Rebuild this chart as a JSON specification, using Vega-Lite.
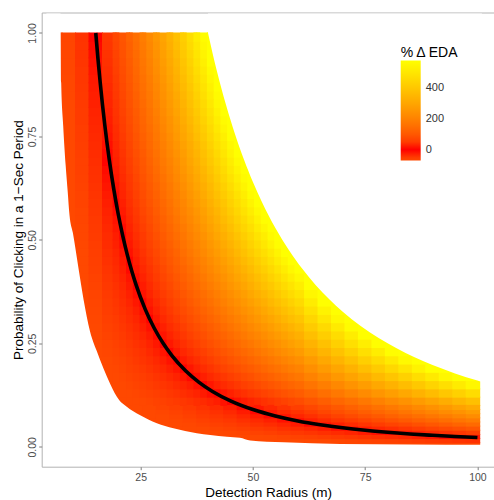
{
"$schema":"https://vega.github.io/schema/vega-lite/v6.json",
"width":452.8,"height":454.2,
"autosize":{"type":"none"},
"padding":{"left":41.7,"top":12.5,"right":0,"bottom":33.3},
"background":"white",
"config":{"font":"Liberation Sans","view":{"stroke":"#b3b3b3","strokeWidth":1}},
"datasets":{
"hi":[
{"r":6,"p":0.77,"v":-88},{"r":6,"p":0.79,"v":-87},{"r":6,"p":0.81,"v":-87},{"r":6,"p":0.83,"v":-87},{"r":6,"p":0.85,"v":-86},{"r":6,"p":0.87,"v":-86},{"r":6,"p":0.89,"v":-86},{"r":6,"p":0.91,"v":-85},{"r":6,"p":0.93,"v":-85},{"r":6,"p":0.95,"v":-85},{"r":6,"p":0.97,"v":-84},{"r":6,"p":0.99,"v":-84},
{"r":9,"p":0.47,"v":-83},{"r":9,"p":0.49,"v":-82},{"r":9,"p":0.51,"v":-82},{"r":9,"p":0.53,"v":-81},{"r":9,"p":0.55,"v":-80},{"r":9,"p":0.57,"v":-79},
{"r":9,"p":0.59,"v":-79},{"r":9,"p":0.61,"v":-78},{"r":9,"p":0.63,"v":-77},{"r":9,"p":0.65,"v":-77},{"r":9,"p":0.67,"v":-76},{"r":9,"p":0.69,"v":-75},{"r":9,"p":0.71,"v":-74},{"r":9,"p":0.73,"v":-74},{"r":9,"p":0.75,"v":-73},{"r":9,"p":0.77,"v":-72},{"r":9,"p":0.79,"v":-72},{"r":9,"p":0.81,"v":-71},{"r":9,"p":0.83,"v":-70},{"r":9,"p":0.85,"v":-69},{"r":9,"p":0.87,"v":-69},{"r":9,"p":0.89,"v":-68},{"r":9,"p":0.91,"v":-67},{"r":9,"p":0.93,"v":-67},{"r":9,"p":0.95,"v":-66},{"r":9,"p":0.97,"v":-65},{"r":9,"p":0.99,"v":-64},
{"r":12,"p":0.29,"v":-81},{"r":12,"p":0.31,"v":-80},{"r":12,"p":0.33,"v":-79},{"r":12,"p":0.35,"v":-78},{"r":12,"p":0.37,"v":-76},
{"r":12,"p":0.39,"v":-75},{"r":12,"p":0.41,"v":-74},{"r":12,"p":0.43,"v":-72},{"r":12,"p":0.45,"v":-71},{"r":12,"p":0.47,"v":-70},{"r":12,"p":0.49,"v":-69},{"r":12,"p":0.51,"v":-67},{"r":12,"p":0.53,"v":-66},{"r":12,"p":0.55,"v":-65},{"r":12,"p":0.57,"v":-64},{"r":12,"p":0.59,"v":-62},{"r":12,"p":0.61,"v":-61},{"r":12,"p":0.63,"v":-60},{"r":12,"p":0.65,"v":-58},{"r":12,"p":0.67,"v":-57},{"r":12,"p":0.69,"v":-56},{"r":12,"p":0.71,"v":-55},{"r":12,"p":0.73,"v":-53},{"r":12,"p":0.75,"v":-52},{"r":12,"p":0.77,"v":-51},{"r":12,"p":0.79,"v":-49},{"r":12,"p":0.81,"v":-48},{"r":12,"p":0.83,"v":-47},{"r":12,"p":0.85,"v":-46},{"r":12,"p":0.87,"v":-44},{"r":12,"p":0.89,"v":-43},{"r":12,"p":0.91,"v":-42},{"r":12,"p":0.93,"v":-40},{"r":12,"p":0.95,"v":-39},{"r":12,"p":0.97,"v":-38},{"r":12,"p":0.99,"v":-37},
{"r":15,"p":0.19,"v":-81},{"r":15,"p":0.21,"v":-79},{"r":15,"p":0.23,"v":-77},
{"r":15,"p":0.25,"v":-75},{"r":15,"p":0.27,"v":-73},{"r":15,"p":0.29,"v":-71},{"r":15,"p":0.31,"v":-69},{"r":15,"p":0.33,"v":-67},{"r":15,"p":0.35,"v":-65},{"r":15,"p":0.37,"v":-63},{"r":15,"p":0.39,"v":-61},{"r":15,"p":0.41,"v":-59},{"r":15,"p":0.43,"v":-57},{"r":15,"p":0.45,"v":-55},{"r":15,"p":0.47,"v":-53},{"r":15,"p":0.49,"v":-51},{"r":15,"p":0.51,"v":-49},{"r":15,"p":0.53,"v":-47},{"r":15,"p":0.55,"v":-45},{"r":15,"p":0.57,"v":-43},{"r":15,"p":0.59,"v":-41},{"r":15,"p":0.61,"v":-39},{"r":15,"p":0.63,"v":-37},{"r":15,"p":0.65,"v":-35},{"r":15,"p":0.67,"v":-33},{"r":15,"p":0.69,"v":-31},{"r":15,"p":0.71,"v":-29},{"r":15,"p":0.73,"v":-27},{"r":15,"p":0.75,"v":-25},{"r":15,"p":0.77,"v":-23},{"r":15,"p":0.79,"v":-21},{"r":15,"p":0.81,"v":-19},{"r":15,"p":0.83,"v":-17},{"r":15,"p":0.85,"v":-15},{"r":15,"p":0.87,"v":-13},{"r":15,"p":0.89,"v":-11},{"r":15,"p":0.91,"v":-9},{"r":15,"p":0.93,"v":-7},{"r":15,"p":0.95,"v":-5},{"r":15,"p":0.97,"v":-3},{"r":15,"p":0.99,"v":-1},
{"r":18,"p":0.13,"v":-81},{"r":18,"p":0.15,"v":-78},
{"r":18,"p":0.17,"v":-76},{"r":18,"p":0.19,"v":-73},{"r":18,"p":0.21,"v":-70},{"r":18,"p":0.23,"v":-67},{"r":18,"p":0.25,"v":-64},{"r":18,"p":0.27,"v":-61},{"r":18,"p":0.29,"v":-58},{"r":18,"p":0.31,"v":-55},{"r":18,"p":0.33,"v":-52},{"r":18,"p":0.35,"v":-50},{"r":18,"p":0.37,"v":-47},{"r":18,"p":0.39,"v":-44},{"r":18,"p":0.41,"v":-41},{"r":18,"p":0.43,"v":-38},{"r":18,"p":0.45,"v":-35},{"r":18,"p":0.47,"v":-32},{"r":18,"p":0.49,"v":-29},{"r":18,"p":0.51,"v":-27},{"r":18,"p":0.53,"v":-24},{"r":18,"p":0.55,"v":-21},{"r":18,"p":0.57,"v":-18},{"r":18,"p":0.59,"v":-15},{"r":18,"p":0.61,"v":-12},{"r":18,"p":0.63,"v":-9},{"r":18,"p":0.65,"v":-6},{"r":18,"p":0.67,"v":-4},{"r":18,"p":0.69,"v":-1},{"r":18,"p":0.71,"v":2},{"r":18,"p":0.73,"v":5},{"r":18,"p":0.75,"v":8},{"r":18,"p":0.77,"v":11},{"r":18,"p":0.79,"v":14},{"r":18,"p":0.81,"v":17},{"r":18,"p":0.83,"v":20},{"r":18,"p":0.85,"v":22},{"r":18,"p":0.87,"v":25},{"r":18,"p":0.89,"v":28},{"r":18,"p":0.91,"v":31},{"r":18,"p":0.93,"v":34},{"r":18,"p":0.95,"v":37},{"r":18,"p":0.97,"v":40},{"r":18,"p":0.99,"v":43},
{"r":21,"p":0.11,"v":-78},{"r":21,"p":0.13,"v":-75},{"r":21,"p":0.15,"v":-71},{"r":21,"p":0.17,"v":-67},{"r":21,"p":0.19,"v":-63},{"r":21,"p":0.21,"v":-59},{"r":21,"p":0.23,"v":-55},{"r":21,"p":0.25,"v":-51},{"r":21,"p":0.27,"v":-47},{"r":21,"p":0.29,"v":-43},{"r":21,"p":0.31,"v":-39},{"r":21,"p":0.33,"v":-35},{"r":21,"p":0.35,"v":-31},{"r":21,"p":0.37,"v":-27},{"r":21,"p":0.39,"v":-24},{"r":21,"p":0.41,"v":-20},{"r":21,"p":0.43,"v":-16},{"r":21,"p":0.45,"v":-12},{"r":21,"p":0.47,"v":-8},{"r":21,"p":0.49,"v":-4},{"r":21,"p":0.51,"v":0},{"r":21,"p":0.53,"v":4},{"r":21,"p":0.55,"v":8},{"r":21,"p":0.57,"v":12},{"r":21,"p":0.59,"v":16},{"r":21,"p":0.61,"v":20},{"r":21,"p":0.63,"v":23},{"r":21,"p":0.65,"v":27},{"r":21,"p":0.67,"v":31},{"r":21,"p":0.69,"v":35},{"r":21,"p":0.71,"v":39},{"r":21,"p":0.73,"v":43},{"r":21,"p":0.75,"v":47},{"r":21,"p":0.77,"v":51},{"r":21,"p":0.79,"v":55},{"r":21,"p":0.81,"v":59},{"r":21,"p":0.83,"v":63},{"r":21,"p":0.85,"v":67},{"r":21,"p":0.87,"v":71},{"r":21,"p":0.89,"v":74},{"r":21,"p":0.91,"v":78},{"r":21,"p":0.93,"v":82},{"r":21,"p":0.95,"v":86},{"r":21,"p":0.97,"v":90},{"r":21,"p":0.99,"v":94},
{"r":24,"p":0.11,"v":-72},{"r":24,"p":0.13,"v":-67},{"r":24,"p":0.15,"v":-62},{"r":24,"p":0.17,"v":-56},{"r":24,"p":0.19,"v":-51},{"r":24,"p":0.21,"v":-46},{"r":24,"p":0.23,"v":-41},{"r":24,"p":0.25,"v":-36},{"r":24,"p":0.27,"v":-31},{"r":24,"p":0.29,"v":-26},{"r":24,"p":0.31,"v":-21},{"r":24,"p":0.33,"v":-16},{"r":24,"p":0.35,"v":-10},{"r":24,"p":0.37,"v":-5},{"r":24,"p":0.39,"v":0},{"r":24,"p":0.41,"v":5},{"r":24,"p":0.43,"v":10},{"r":24,"p":0.45,"v":15},{"r":24,"p":0.47,"v":20},{"r":24,"p":0.49,"v":25},{"r":24,"p":0.51,"v":31},{"r":24,"p":0.53,"v":36},{"r":24,"p":0.55,"v":41},{"r":24,"p":0.57,"v":46},{"r":24,"p":0.59,"v":51},{"r":24,"p":0.61,"v":56},{"r":24,"p":0.63,"v":61},{"r":24,"p":0.65,"v":66},{"r":24,"p":0.67,"v":72},{"r":24,"p":0.69,"v":77},{"r":24,"p":0.71,"v":82},{"r":24,"p":0.73,"v":87},{"r":24,"p":0.75,"v":92},{"r":24,"p":0.77,"v":97},{"r":24,"p":0.79,"v":102},{"r":24,"p":0.81,"v":107},{"r":24,"p":0.83,"v":112},{"r":24,"p":0.85,"v":118},{"r":24,"p":0.87,"v":123},{"r":24,"p":0.89,"v":128},{"r":24,"p":0.91,"v":133},{"r":24,"p":0.93,"v":138},{"r":24,"p":0.95,"v":143},{"r":24,"p":0.97,"v":148},{"r":24,"p":0.99,"v":153},
{"r":27,"p":0.11,"v":-64},{"r":27,"p":0.13,"v":-58},{"r":27,"p":0.15,"v":-51},{"r":27,"p":0.17,"v":-45},{"r":27,"p":0.19,"v":-38},{"r":27,"p":0.21,"v":-32},{"r":27,"p":0.23,"v":-25},{"r":27,"p":0.25,"v":-19},{"r":27,"p":0.27,"v":-13},{"r":27,"p":0.29,"v":-6},{"r":27,"p":0.31,"v":0},{"r":27,"p":0.33,"v":7},{"r":27,"p":0.35,"v":13},{"r":27,"p":0.37,"v":20},{"r":27,"p":0.39,"v":26},{"r":27,"p":0.41,"v":33},{"r":27,"p":0.43,"v":39},{"r":27,"p":0.45,"v":46},{"r":27,"p":0.47,"v":52},{"r":27,"p":0.49,"v":59},{"r":27,"p":0.51,"v":65},{"r":27,"p":0.53,"v":72},{"r":27,"p":0.55,"v":78},{"r":27,"p":0.57,"v":85},{"r":27,"p":0.59,"v":91},{"r":27,"p":0.61,"v":98},{"r":27,"p":0.63,"v":104},{"r":27,"p":0.65,"v":111},{"r":27,"p":0.67,"v":117},{"r":27,"p":0.69,"v":124},{"r":27,"p":0.71,"v":130},{"r":27,"p":0.73,"v":137},{"r":27,"p":0.75,"v":143},{"r":27,"p":0.77,"v":149},{"r":27,"p":0.79,"v":156},{"r":27,"p":0.81,"v":162},{"r":27,"p":0.83,"v":169},{"r":27,"p":0.85,"v":175},{"r":27,"p":0.87,"v":182},{"r":27,"p":0.89,"v":188},{"r":27,"p":0.91,"v":195},{"r":27,"p":0.93,"v":201},{"r":27,"p":0.95,"v":208},{"r":27,"p":0.97,"v":214},{"r":27,"p":0.99,"v":221},
{"r":30,"p":0.11,"v":-56},{"r":30,"p":0.13,"v":-48},{"r":30,"p":0.15,"v":-40},{"r":30,"p":0.17,"v":-32},{"r":30,"p":0.19,"v":-24},{"r":30,"p":0.21,"v":-16},{"r":30,"p":0.23,"v":-8},{"r":30,"p":0.25,"v":0},{"r":30,"p":0.27,"v":8},{"r":30,"p":0.29,"v":16},{"r":30,"p":0.31,"v":24},{"r":30,"p":0.33,"v":32},{"r":30,"p":0.35,"v":40},{"r":30,"p":0.37,"v":48},{"r":30,"p":0.39,"v":56},{"r":30,"p":0.41,"v":64},{"r":30,"p":0.43,"v":72},{"r":30,"p":0.45,"v":80},{"r":30,"p":0.47,"v":88},{"r":30,"p":0.49,"v":96},{"r":30,"p":0.51,"v":104},{"r":30,"p":0.53,"v":112},{"r":30,"p":0.55,"v":120},{"r":30,"p":0.57,"v":128},{"r":30,"p":0.59,"v":136},{"r":30,"p":0.61,"v":144},{"r":30,"p":0.63,"v":152},{"r":30,"p":0.65,"v":160},{"r":30,"p":0.67,"v":168},{"r":30,"p":0.69,"v":176},{"r":30,"p":0.71,"v":184},{"r":30,"p":0.73,"v":192},{"r":30,"p":0.75,"v":200},{"r":30,"p":0.77,"v":208},{"r":30,"p":0.79,"v":216},{"r":30,"p":0.81,"v":224},{"r":30,"p":0.83,"v":232},{"r":30,"p":0.85,"v":240},{"r":30,"p":0.87,"v":248},{"r":30,"p":0.89,"v":256},{"r":30,"p":0.91,"v":264},{"r":30,"p":0.93,"v":272},{"r":30,"p":0.95,"v":280},{"r":30,"p":0.97,"v":288},{"r":30,"p":0.99,"v":296},
{"r":33,"p":0.11,"v":-47},{"r":33,"p":0.13,"v":-37},{"r":33,"p":0.15,"v":-27},{"r":33,"p":0.17,"v":-18},{"r":33,"p":0.19,"v":-8},{"r":33,"p":0.21,"v":2},{"r":33,"p":0.23,"v":11},{"r":33,"p":0.25,"v":21},{"r":33,"p":0.27,"v":31},{"r":33,"p":0.29,"v":40},{"r":33,"p":0.31,"v":50},{"r":33,"p":0.33,"v":60},{"r":33,"p":0.35,"v":69},{"r":33,"p":0.37,"v":79},{"r":33,"p":0.39,"v":89},{"r":33,"p":0.41,"v":98},{"r":33,"p":0.43,"v":108},{"r":33,"p":0.45,"v":118},{"r":33,"p":0.47,"v":127},{"r":33,"p":0.49,"v":137},{"r":33,"p":0.51,"v":147},{"r":33,"p":0.53,"v":157},{"r":33,"p":0.55,"v":166},{"r":33,"p":0.57,"v":176},{"r":33,"p":0.59,"v":186},{"r":33,"p":0.61,"v":195},{"r":33,"p":0.63,"v":205},{"r":33,"p":0.65,"v":215},{"r":33,"p":0.67,"v":224},{"r":33,"p":0.69,"v":234},{"r":33,"p":0.71,"v":244},{"r":33,"p":0.73,"v":253},{"r":33,"p":0.75,"v":263},{"r":33,"p":0.77,"v":273},{"r":33,"p":0.79,"v":282},{"r":33,"p":0.81,"v":292},{"r":33,"p":0.83,"v":302},{"r":33,"p":0.85,"v":311},{"r":33,"p":0.87,"v":321},{"r":33,"p":0.89,"v":331},{"r":33,"p":0.91,"v":340},{"r":33,"p":0.93,"v":350},{"r":33,"p":0.95,"v":360},{"r":33,"p":0.97,"v":369},{"r":33,"p":0.99,"v":379},
{"r":36,"p":0.11,"v":-37},{"r":36,"p":0.13,"v":-25},{"r":36,"p":0.15,"v":-14},{"r":36,"p":0.17,"v":-2},{"r":36,"p":0.19,"v":9},{"r":36,"p":0.21,"v":21},{"r":36,"p":0.23,"v":32},{"r":36,"p":0.25,"v":44},{"r":36,"p":0.27,"v":56},{"r":36,"p":0.29,"v":67},{"r":36,"p":0.31,"v":79},{"r":36,"p":0.33,"v":90},{"r":36,"p":0.35,"v":102},{"r":36,"p":0.37,"v":113},{"r":36,"p":0.39,"v":125},{"r":36,"p":0.41,"v":136},{"r":36,"p":0.43,"v":148},{"r":36,"p":0.45,"v":159},{"r":36,"p":0.47,"v":171},{"r":36,"p":0.49,"v":182},{"r":36,"p":0.51,"v":194},{"r":36,"p":0.53,"v":205},{"r":36,"p":0.55,"v":217},{"r":36,"p":0.57,"v":228},{"r":36,"p":0.59,"v":240},{"r":36,"p":0.61,"v":251},{"r":36,"p":0.63,"v":263},{"r":36,"p":0.65,"v":274},{"r":36,"p":0.67,"v":286},{"r":36,"p":0.69,"v":297},{"r":36,"p":0.71,"v":309},{"r":36,"p":0.73,"v":320},{"r":36,"p":0.75,"v":332},{"r":36,"p":0.77,"v":344},{"r":36,"p":0.79,"v":355},{"r":36,"p":0.81,"v":367},{"r":36,"p":0.83,"v":378},{"r":36,"p":0.85,"v":390},{"r":36,"p":0.87,"v":401},{"r":36,"p":0.89,"v":413},{"r":36,"p":0.91,"v":424},{"r":36,"p":0.93,"v":436},{"r":36,"p":0.95,"v":447},{"r":36,"p":0.97,"v":459},{"r":36,"p":0.99,"v":470},
{"r":39,"p":0.11,"v":-26},{"r":39,"p":0.13,"v":-12},{"r":39,"p":0.15,"v":1},{"r":39,"p":0.17,"v":15},{"r":39,"p":0.19,"v":28},{"r":39,"p":0.21,"v":42},{"r":39,"p":0.23,"v":55},{"r":39,"p":0.25,"v":69},{"r":39,"p":0.27,"v":83},{"r":39,"p":0.29,"v":96},{"r":39,"p":0.31,"v":110},{"r":39,"p":0.33,"v":123},{"r":39,"p":0.35,"v":137},{"r":39,"p":0.37,"v":150},{"r":39,"p":0.39,"v":164},{"r":39,"p":0.41,"v":177},{"r":39,"p":0.43,"v":191},{"r":39,"p":0.45,"v":204},{"r":39,"p":0.47,"v":218},{"r":39,"p":0.49,"v":231},{"r":39,"p":0.51,"v":245},{"r":39,"p":0.53,"v":258},{"r":39,"p":0.55,"v":272},{"r":39,"p":0.57,"v":285},{"r":39,"p":0.59,"v":299},{"r":39,"p":0.61,"v":312},{"r":39,"p":0.63,"v":326},{"r":39,"p":0.65,"v":339},{"r":39,"p":0.67,"v":353},{"r":39,"p":0.69,"v":366},{"r":39,"p":0.71,"v":380},{"r":39,"p":0.73,"v":393},{"r":39,"p":0.75,"v":407},{"r":39,"p":0.77,"v":421},{"r":39,"p":0.79,"v":434},{"r":39,"p":0.81,"v":448},{"r":39,"p":0.83,"v":461},{"r":39,"p":0.85,"v":475},{"r":39,"p":0.87,"v":488},{"r":39,"p":0.89,"v":502},{"r":39,"p":0.91,"v":515},{"r":39,"p":0.93,"v":529},{"r":39,"p":0.95,"v":542},{"r":39,"p":0.97,"v":556},{"r":39,"p":0.99,"v":569},
{"r":42,"p":0.11,"v":-14},{"r":42,"p":0.13,"v":2},{"r":42,"p":0.15,"v":18},{"r":42,"p":0.17,"v":33},{"r":42,"p":0.19,"v":49},{"r":42,"p":0.21,"v":65},{"r":42,"p":0.23,"v":80},{"r":42,"p":0.25,"v":96},{"r":42,"p":0.27,"v":112},{"r":42,"p":0.29,"v":127},{"r":42,"p":0.31,"v":143},{"r":42,"p":0.33,"v":159},{"r":42,"p":0.35,"v":174},{"r":42,"p":0.37,"v":190},{"r":42,"p":0.39,"v":206},{"r":42,"p":0.41,"v":221},{"r":42,"p":0.43,"v":237},{"r":42,"p":0.45,"v":253},{"r":42,"p":0.47,"v":268},{"r":42,"p":0.49,"v":284},{"r":42,"p":0.51,"v":300},{"r":42,"p":0.53,"v":316},{"r":42,"p":0.55,"v":331},{"r":42,"p":0.57,"v":347},{"r":42,"p":0.59,"v":363},{"r":42,"p":0.61,"v":378},{"r":42,"p":0.63,"v":394},{"r":42,"p":0.65,"v":410},{"r":42,"p":0.67,"v":425},{"r":42,"p":0.69,"v":441},{"r":42,"p":0.71,"v":457},{"r":42,"p":0.73,"v":472},{"r":42,"p":0.75,"v":488},{"r":42,"p":0.77,"v":504},{"r":42,"p":0.79,"v":519},{"r":42,"p":0.81,"v":535},{"r":42,"p":0.83,"v":551},{"r":42,"p":0.85,"v":566},{"r":42,"p":0.87,"v":582},{"r":42,"p":0.89,"v":598},{"r":42,"p":0.91,"v":613},{"r":42,"p":0.93,"v":629},{"r":42,"p":0.95,"v":645},{"r":42,"p":0.97,"v":660},
{"r":45,"p":0.11,"v":-1},{"r":45,"p":0.13,"v":17},{"r":45,"p":0.15,"v":35},{"r":45,"p":0.17,"v":53},{"r":45,"p":0.19,"v":71},{"r":45,"p":0.21,"v":89},{"r":45,"p":0.23,"v":107},{"r":45,"p":0.25,"v":125},{"r":45,"p":0.27,"v":143},{"r":45,"p":0.29,"v":161},{"r":45,"p":0.31,"v":179},{"r":45,"p":0.33,"v":197},{"r":45,"p":0.35,"v":215},{"r":45,"p":0.37,"v":233},{"r":45,"p":0.39,"v":251},{"r":45,"p":0.41,"v":269},{"r":45,"p":0.43,"v":287},{"r":45,"p":0.45,"v":305},{"r":45,"p":0.47,"v":323},{"r":45,"p":0.49,"v":341},{"r":45,"p":0.51,"v":359},{"r":45,"p":0.53,"v":377},{"r":45,"p":0.55,"v":395},{"r":45,"p":0.57,"v":413},{"r":45,"p":0.59,"v":431},{"r":45,"p":0.61,"v":449},{"r":45,"p":0.63,"v":467},{"r":45,"p":0.65,"v":485},{"r":45,"p":0.67,"v":503},{"r":45,"p":0.69,"v":521},{"r":45,"p":0.71,"v":539},{"r":45,"p":0.73,"v":557},{"r":45,"p":0.75,"v":575},{"r":45,"p":0.77,"v":593},{"r":45,"p":0.79,"v":611},{"r":45,"p":0.81,"v":629},{"r":45,"p":0.83,"v":647},{"r":45,"p":0.85,"v":665},
{"r":48,"p":0.11,"v":13},{"r":48,"p":0.13,"v":33},{"r":48,"p":0.15,"v":54},{"r":48,"p":0.17,"v":74},{"r":48,"p":0.19,"v":95},{"r":48,"p":0.21,"v":115},{"r":48,"p":0.23,"v":136},{"r":48,"p":0.25,"v":156},{"r":48,"p":0.27,"v":176},{"r":48,"p":0.29,"v":197},{"r":48,"p":0.31,"v":217},{"r":48,"p":0.33,"v":238},{"r":48,"p":0.35,"v":258},{"r":48,"p":0.37,"v":279},{"r":48,"p":0.39,"v":299},{"r":48,"p":0.41,"v":320},{"r":48,"p":0.43,"v":340},{"r":48,"p":0.45,"v":361},{"r":48,"p":0.47,"v":381},{"r":48,"p":0.49,"v":402},{"r":48,"p":0.51,"v":422},{"r":48,"p":0.53,"v":443},{"r":48,"p":0.55,"v":463},{"r":48,"p":0.57,"v":484},{"r":48,"p":0.59,"v":504},{"r":48,"p":0.61,"v":525},{"r":48,"p":0.63,"v":545},{"r":48,"p":0.65,"v":566},{"r":48,"p":0.67,"v":586},{"r":48,"p":0.69,"v":607},{"r":48,"p":0.71,"v":627},{"r":48,"p":0.73,"v":648},{"r":48,"p":0.75,"v":668},
{"r":51,"p":0.11,"v":27},{"r":51,"p":0.13,"v":50},{"r":51,"p":0.15,"v":73},{"r":51,"p":0.17,"v":97},{"r":51,"p":0.19,"v":120},{"r":51,"p":0.21,"v":143},{"r":51,"p":0.23,"v":166},{"r":51,"p":0.25,"v":189},{"r":51,"p":0.27,"v":212},{"r":51,"p":0.29,"v":235},{"r":51,"p":0.31,"v":258},{"r":51,"p":0.33,"v":281},{"r":51,"p":0.35,"v":305},{"r":51,"p":0.37,"v":328},{"r":51,"p":0.39,"v":351},{"r":51,"p":0.41,"v":374},{"r":51,"p":0.43,"v":397},{"r":51,"p":0.45,"v":420},{"r":51,"p":0.47,"v":443},{"r":51,"p":0.49,"v":466},{"r":51,"p":0.51,"v":490},{"r":51,"p":0.53,"v":513},{"r":51,"p":0.55,"v":536},{"r":51,"p":0.57,"v":559},{"r":51,"p":0.59,"v":582},{"r":51,"p":0.61,"v":605},{"r":51,"p":0.63,"v":628},{"r":51,"p":0.65,"v":651},
{"r":54,"p":0.11,"v":43},{"r":54,"p":0.13,"v":68},{"r":54,"p":0.15,"v":94},{"r":54,"p":0.17,"v":120},{"r":54,"p":0.19,"v":146},{"r":54,"p":0.21,"v":172},{"r":54,"p":0.23,"v":198},{"r":54,"p":0.25,"v":224},{"r":54,"p":0.27,"v":250},{"r":54,"p":0.29,"v":276},{"r":54,"p":0.31,"v":302},{"r":54,"p":0.33,"v":328},{"r":54,"p":0.35,"v":354},{"r":54,"p":0.37,"v":380},{"r":54,"p":0.39,"v":405},{"r":54,"p":0.41,"v":431},{"r":54,"p":0.43,"v":457},{"r":54,"p":0.45,"v":483},{"r":54,"p":0.47,"v":509},{"r":54,"p":0.49,"v":535},{"r":54,"p":0.51,"v":561},{"r":54,"p":0.53,"v":587},{"r":54,"p":0.55,"v":613},{"r":54,"p":0.57,"v":639},{"r":54,"p":0.59,"v":665},
{"r":57,"p":0.11,"v":59},{"r":57,"p":0.13,"v":88},{"r":57,"p":0.15,"v":117},{"r":57,"p":0.17,"v":145},{"r":57,"p":0.19,"v":174},{"r":57,"p":0.21,"v":203},{"r":57,"p":0.23,"v":232},{"r":57,"p":0.25,"v":261},{"r":57,"p":0.27,"v":290},{"r":57,"p":0.29,"v":319},{"r":57,"p":0.31,"v":348},{"r":57,"p":0.33,"v":377},{"r":57,"p":0.35,"v":405},{"r":57,"p":0.37,"v":434},{"r":57,"p":0.39,"v":463},{"r":57,"p":0.41,"v":492},{"r":57,"p":0.43,"v":521},{"r":57,"p":0.45,"v":550},{"r":57,"p":0.47,"v":579},{"r":57,"p":0.49,"v":608},{"r":57,"p":0.51,"v":636},
{"r":60,"p":0.11,"v":76},{"r":60,"p":0.13,"v":108},{"r":60,"p":0.15,"v":140},{"r":60,"p":0.17,"v":172},{"r":60,"p":0.19,"v":204},{"r":60,"p":0.21,"v":236},{"r":60,"p":0.23,"v":268},{"r":60,"p":0.25,"v":300},{"r":60,"p":0.27,"v":332},{"r":60,"p":0.29,"v":364},{"r":60,"p":0.31,"v":396},{"r":60,"p":0.33,"v":428},{"r":60,"p":0.35,"v":460},{"r":60,"p":0.37,"v":492},{"r":60,"p":0.39,"v":524},{"r":60,"p":0.41,"v":556},{"r":60,"p":0.43,"v":588},{"r":60,"p":0.45,"v":620},{"r":60,"p":0.47,"v":652},
{"r":63,"p":0.11,"v":94},{"r":63,"p":0.13,"v":129},{"r":63,"p":0.15,"v":165},{"r":63,"p":0.17,"v":200},{"r":63,"p":0.19,"v":235},{"r":63,"p":0.21,"v":270},{"r":63,"p":0.23,"v":306},{"r":63,"p":0.25,"v":341},{"r":63,"p":0.27,"v":376},{"r":63,"p":0.29,"v":412},{"r":63,"p":0.31,"v":447},{"r":63,"p":0.33,"v":482},{"r":63,"p":0.35,"v":517},{"r":63,"p":0.37,"v":553},{"r":63,"p":0.39,"v":588},{"r":63,"p":0.41,"v":623},{"r":63,"p":0.43,"v":659},
{"r":66,"p":0.11,"v":113},{"r":66,"p":0.13,"v":152},{"r":66,"p":0.15,"v":190},{"r":66,"p":0.17,"v":229},{"r":66,"p":0.19,"v":268},{"r":66,"p":0.21,"v":307},{"r":66,"p":0.23,"v":345},{"r":66,"p":0.25,"v":384},{"r":66,"p":0.27,"v":423},{"r":66,"p":0.29,"v":461},{"r":66,"p":0.31,"v":500},{"r":66,"p":0.33,"v":539},{"r":66,"p":0.35,"v":578},{"r":66,"p":0.37,"v":616},{"r":66,"p":0.39,"v":655},
{"r":69,"p":0.11,"v":133},{"r":69,"p":0.13,"v":175},{"r":69,"p":0.15,"v":217},{"r":69,"p":0.17,"v":260},{"r":69,"p":0.19,"v":302},{"r":69,"p":0.21,"v":344},{"r":69,"p":0.23,"v":387},{"r":69,"p":0.25,"v":429},{"r":69,"p":0.27,"v":471},{"r":69,"p":0.29,"v":514},{"r":69,"p":0.31,"v":556},{"r":69,"p":0.33,"v":598},{"r":69,"p":0.35,"v":641},
{"r":72,"p":0.11,"v":153},{"r":72,"p":0.13,"v":200},{"r":72,"p":0.15,"v":246},{"r":72,"p":0.17,"v":292},{"r":72,"p":0.19,"v":338},{"r":72,"p":0.21,"v":384},{"r":72,"p":0.23,"v":430},{"r":72,"p":0.25,"v":476},{"r":72,"p":0.27,"v":522},{"r":72,"p":0.29,"v":568},{"r":72,"p":0.31,"v":614},{"r":72,"p":0.33,"v":660},
{"r":75,"p":0.11,"v":175},{"r":75,"p":0.13,"v":225},{"r":75,"p":0.15,"v":275},{"r":75,"p":0.17,"v":325},{"r":75,"p":0.19,"v":375},{"r":75,"p":0.21,"v":425},{"r":75,"p":0.23,"v":475},{"r":75,"p":0.25,"v":525},{"r":75,"p":0.27,"v":575},{"r":75,"p":0.29,"v":625},
{"r":78,"p":0.11,"v":197},{"r":78,"p":0.13,"v":252},{"r":78,"p":0.15,"v":306},{"r":78,"p":0.17,"v":360},{"r":78,"p":0.19,"v":414},{"r":78,"p":0.21,"v":468},{"r":78,"p":0.23,"v":522},{"r":78,"p":0.25,"v":576},{"r":78,"p":0.27,"v":630},
{"r":81,"p":0.11,"v":221},{"r":81,"p":0.13,"v":279},{"r":81,"p":0.15,"v":337},{"r":81,"p":0.17,"v":396},{"r":81,"p":0.19,"v":454},{"r":81,"p":0.21,"v":512},{"r":81,"p":0.23,"v":571},{"r":81,"p":0.25,"v":629},
{"r":84,"p":0.11,"v":245},{"r":84,"p":0.13,"v":308},{"r":84,"p":0.15,"v":370},{"r":84,"p":0.17,"v":433},{"r":84,"p":0.19,"v":496},{"r":84,"p":0.21,"v":559},{"r":84,"p":0.23,"v":621},
{"r":87,"p":0.11,"v":270},{"r":87,"p":0.13,"v":337},{"r":87,"p":0.15,"v":405},{"r":87,"p":0.17,"v":472},{"r":87,"p":0.19,"v":539},{"r":87,"p":0.21,"v":606},
{"r":90,"p":0.11,"v":296},{"r":90,"p":0.13,"v":368},{"r":90,"p":0.15,"v":440},{"r":90,"p":0.17,"v":512},{"r":90,"p":0.19,"v":584},{"r":90,"p":0.21,"v":656},
{"r":93,"p":0.11,"v":323},{"r":93,"p":0.13,"v":400},{"r":93,"p":0.15,"v":477},{"r":93,"p":0.17,"v":553},{"r":93,"p":0.19,"v":630},
{"r":96,"p":0.11,"v":351},{"r":96,"p":0.13,"v":432},{"r":96,"p":0.15,"v":514},{"r":96,"p":0.17,"v":596},
{"r":99,"p":0.11,"v":379},{"r":99,"p":0.13,"v":466},{"r":99,"p":0.15,"v":553},{"r":99,"p":0.17,"v":641}
],
"mid":[
{"r":19.5,"p":0.11,"v":-81},{"r":19.5,"p":0.13,"v":-78},{"r":19.5,"p":0.15,"v":-75},{"r":19.5,"p":0.17,"v":-71},{"r":19.5,"p":0.19,"v":-68},{"r":19.5,"p":0.21,"v":-65},{"r":19.5,"p":0.23,"v":-61},{"r":19.5,"p":0.25,"v":-58},{"r":19.5,"p":0.27,"v":-54},{"r":19.5,"p":0.29,"v":-51},{"r":19.5,"p":0.31,"v":-48},{"r":19.5,"p":0.33,"v":-44},{"r":19.5,"p":0.35,"v":-41},{"r":19.5,"p":0.37,"v":-37},{"r":19.5,"p":0.39,"v":-34},{"r":19.5,"p":0.41,"v":-31},{"r":19.5,"p":0.43,"v":-27},{"r":19.5,"p":0.45,"v":-24},{"r":19.5,"p":0.47,"v":-21},{"r":19.5,"p":0.49,"v":-17},{"r":19.5,"p":0.51,"v":-14},{"r":19.5,"p":0.53,"v":-10},{"r":19.5,"p":0.55,"v":-7},{"r":19.5,"p":0.57,"v":-4},{"r":19.5,"p":0.59,"v":0},{"r":19.5,"p":0.61,"v":3},{"r":19.5,"p":0.63,"v":6},{"r":19.5,"p":0.65,"v":10},{"r":19.5,"p":0.67,"v":13},{"r":19.5,"p":0.69,"v":17},{"r":19.5,"p":0.71,"v":20},{"r":19.5,"p":0.73,"v":23},{"r":19.5,"p":0.75,"v":27},{"r":19.5,"p":0.77,"v":30},{"r":19.5,"p":0.79,"v":34},{"r":19.5,"p":0.81,"v":37},{"r":19.5,"p":0.83,"v":40},{"r":19.5,"p":0.85,"v":44},{"r":19.5,"p":0.87,"v":47},{"r":19.5,"p":0.89,"v":50},{"r":19.5,"p":0.91,"v":54},{"r":19.5,"p":0.93,"v":57},{"r":19.5,"p":0.95,"v":61},{"r":19.5,"p":0.97,"v":64},{"r":19.5,"p":0.99,"v":67},
{"r":22.5,"p":0.11,"v":-75},{"r":22.5,"p":0.13,"v":-71},{"r":22.5,"p":0.15,"v":-66},{"r":22.5,"p":0.17,"v":-62},{"r":22.5,"p":0.19,"v":-57},{"r":22.5,"p":0.21,"v":-53},{"r":22.5,"p":0.23,"v":-48},{"r":22.5,"p":0.25,"v":-44},{"r":22.5,"p":0.27,"v":-39},{"r":22.5,"p":0.29,"v":-35},{"r":22.5,"p":0.31,"v":-30},{"r":22.5,"p":0.33,"v":-26},{"r":22.5,"p":0.35,"v":-21},{"r":22.5,"p":0.37,"v":-17},{"r":22.5,"p":0.39,"v":-12},{"r":22.5,"p":0.41,"v":-8},{"r":22.5,"p":0.43,"v":-3},{"r":22.5,"p":0.45,"v":1},{"r":22.5,"p":0.47,"v":6},{"r":22.5,"p":0.49,"v":10},{"r":22.5,"p":0.51,"v":15},{"r":22.5,"p":0.53,"v":19},{"r":22.5,"p":0.55,"v":24},{"r":22.5,"p":0.57,"v":28},{"r":22.5,"p":0.59,"v":33},{"r":22.5,"p":0.61,"v":37},{"r":22.5,"p":0.63,"v":42},{"r":22.5,"p":0.65,"v":46},{"r":22.5,"p":0.67,"v":51},{"r":22.5,"p":0.69,"v":55},{"r":22.5,"p":0.71,"v":60},{"r":22.5,"p":0.73,"v":64},{"r":22.5,"p":0.75,"v":69},{"r":22.5,"p":0.77,"v":73},{"r":22.5,"p":0.79,"v":78},{"r":22.5,"p":0.81,"v":82},{"r":22.5,"p":0.83,"v":87},{"r":22.5,"p":0.85,"v":91},{"r":22.5,"p":0.87,"v":96},{"r":22.5,"p":0.89,"v":100},{"r":22.5,"p":0.91,"v":105},{"r":22.5,"p":0.93,"v":109},{"r":22.5,"p":0.95,"v":114},{"r":22.5,"p":0.97,"v":118},{"r":22.5,"p":0.99,"v":123},
{"r":25.5,"p":0.11,"v":-68},{"r":25.5,"p":0.13,"v":-62},{"r":25.5,"p":0.15,"v":-57},{"r":25.5,"p":0.17,"v":-51},{"r":25.5,"p":0.19,"v":-45},{"r":25.5,"p":0.21,"v":-39},{"r":25.5,"p":0.23,"v":-34},{"r":25.5,"p":0.25,"v":-28},{"r":25.5,"p":0.27,"v":-22},{"r":25.5,"p":0.29,"v":-16},{"r":25.5,"p":0.31,"v":-10},{"r":25.5,"p":0.33,"v":-5},{"r":25.5,"p":0.35,"v":1},{"r":25.5,"p":0.37,"v":7},{"r":25.5,"p":0.39,"v":13},{"r":25.5,"p":0.41,"v":18},{"r":25.5,"p":0.43,"v":24},{"r":25.5,"p":0.45,"v":30},{"r":25.5,"p":0.47,"v":36},{"r":25.5,"p":0.49,"v":42},{"r":25.5,"p":0.51,"v":47},{"r":25.5,"p":0.53,"v":53},{"r":25.5,"p":0.55,"v":59},{"r":25.5,"p":0.57,"v":65},{"r":25.5,"p":0.59,"v":71},{"r":25.5,"p":0.61,"v":76},{"r":25.5,"p":0.63,"v":82},{"r":25.5,"p":0.65,"v":88},{"r":25.5,"p":0.67,"v":94},{"r":25.5,"p":0.69,"v":99},{"r":25.5,"p":0.71,"v":105},{"r":25.5,"p":0.73,"v":111},{"r":25.5,"p":0.75,"v":117},{"r":25.5,"p":0.77,"v":123},{"r":25.5,"p":0.79,"v":128},{"r":25.5,"p":0.81,"v":134},{"r":25.5,"p":0.83,"v":140},{"r":25.5,"p":0.85,"v":146},{"r":25.5,"p":0.87,"v":151},{"r":25.5,"p":0.89,"v":157},{"r":25.5,"p":0.91,"v":163},{"r":25.5,"p":0.93,"v":169},{"r":25.5,"p":0.95,"v":175},{"r":25.5,"p":0.97,"v":180},{"r":25.5,"p":0.99,"v":186},
{"r":28.5,"p":0.11,"v":-60},{"r":28.5,"p":0.13,"v":-53},{"r":28.5,"p":0.15,"v":-46},{"r":28.5,"p":0.17,"v":-39},{"r":28.5,"p":0.19,"v":-31},{"r":28.5,"p":0.21,"v":-24},{"r":28.5,"p":0.23,"v":-17},{"r":28.5,"p":0.25,"v":-10},{"r":28.5,"p":0.27,"v":-3},{"r":28.5,"p":0.29,"v":5},{"r":28.5,"p":0.31,"v":12},{"r":28.5,"p":0.33,"v":19},{"r":28.5,"p":0.35,"v":26},{"r":28.5,"p":0.37,"v":34},{"r":28.5,"p":0.39,"v":41},{"r":28.5,"p":0.41,"v":48},{"r":28.5,"p":0.43,"v":55},{"r":28.5,"p":0.45,"v":62},{"r":28.5,"p":0.47,"v":70},{"r":28.5,"p":0.49,"v":77},{"r":28.5,"p":0.51,"v":84},{"r":28.5,"p":0.53,"v":91},{"r":28.5,"p":0.55,"v":99},{"r":28.5,"p":0.57,"v":106},{"r":28.5,"p":0.59,"v":113},{"r":28.5,"p":0.61,"v":120},{"r":28.5,"p":0.63,"v":127},{"r":28.5,"p":0.65,"v":135},{"r":28.5,"p":0.67,"v":142},{"r":28.5,"p":0.69,"v":149},{"r":28.5,"p":0.71,"v":156},{"r":28.5,"p":0.73,"v":164},{"r":28.5,"p":0.75,"v":171},{"r":28.5,"p":0.77,"v":178},{"r":28.5,"p":0.79,"v":185},{"r":28.5,"p":0.81,"v":192},{"r":28.5,"p":0.83,"v":200},{"r":28.5,"p":0.85,"v":207},{"r":28.5,"p":0.87,"v":214},{"r":28.5,"p":0.89,"v":221},{"r":28.5,"p":0.91,"v":229},{"r":28.5,"p":0.93,"v":236},{"r":28.5,"p":0.95,"v":243},{"r":28.5,"p":0.97,"v":250},{"r":28.5,"p":0.99,"v":257},
{"r":31.5,"p":0.11,"v":-51},{"r":31.5,"p":0.13,"v":-43},{"r":31.5,"p":0.15,"v":-34},{"r":31.5,"p":0.17,"v":-25},{"r":31.5,"p":0.19,"v":-16},{"r":31.5,"p":0.21,"v":-7},{"r":31.5,"p":0.23,"v":1},{"r":31.5,"p":0.25,"v":10},{"r":31.5,"p":0.27,"v":19},{"r":31.5,"p":0.29,"v":28},{"r":31.5,"p":0.31,"v":37},{"r":31.5,"p":0.33,"v":46},{"r":31.5,"p":0.35,"v":54},{"r":31.5,"p":0.37,"v":63},{"r":31.5,"p":0.39,"v":72},{"r":31.5,"p":0.41,"v":81},{"r":31.5,"p":0.43,"v":90},{"r":31.5,"p":0.45,"v":98},{"r":31.5,"p":0.47,"v":107},{"r":31.5,"p":0.49,"v":116},{"r":31.5,"p":0.51,"v":125},{"r":31.5,"p":0.53,"v":134},{"r":31.5,"p":0.55,"v":143},{"r":31.5,"p":0.57,"v":151},{"r":31.5,"p":0.59,"v":160},{"r":31.5,"p":0.61,"v":169},{"r":31.5,"p":0.63,"v":178},{"r":31.5,"p":0.65,"v":187},{"r":31.5,"p":0.67,"v":195},{"r":31.5,"p":0.69,"v":204},{"r":31.5,"p":0.71,"v":213},{"r":31.5,"p":0.73,"v":222},{"r":31.5,"p":0.75,"v":231},{"r":31.5,"p":0.77,"v":240},{"r":31.5,"p":0.79,"v":248},{"r":31.5,"p":0.81,"v":257},{"r":31.5,"p":0.83,"v":266},{"r":31.5,"p":0.85,"v":275},{"r":31.5,"p":0.87,"v":284},{"r":31.5,"p":0.89,"v":292},{"r":31.5,"p":0.91,"v":301},{"r":31.5,"p":0.93,"v":310},{"r":31.5,"p":0.95,"v":319},{"r":31.5,"p":0.97,"v":328},{"r":31.5,"p":0.99,"v":337},
{"r":34.5,"p":0.11,"v":-42},{"r":34.5,"p":0.13,"v":-31},{"r":34.5,"p":0.15,"v":-21},{"r":34.5,"p":0.17,"v":-10},{"r":34.5,"p":0.19,"v":1},{"r":34.5,"p":0.21,"v":11},{"r":34.5,"p":0.23,"v":22},{"r":34.5,"p":0.25,"v":32},{"r":34.5,"p":0.27,"v":43},{"r":34.5,"p":0.29,"v":53},{"r":34.5,"p":0.31,"v":64},{"r":34.5,"p":0.33,"v":75},{"r":34.5,"p":0.35,"v":85},{"r":34.5,"p":0.37,"v":96},{"r":34.5,"p":0.39,"v":106},{"r":34.5,"p":0.41,"v":117},{"r":34.5,"p":0.43,"v":127},{"r":34.5,"p":0.45,"v":138},{"r":34.5,"p":0.47,"v":149},{"r":34.5,"p":0.49,"v":159},{"r":34.5,"p":0.51,"v":170},{"r":34.5,"p":0.53,"v":180},{"r":34.5,"p":0.55,"v":191},{"r":34.5,"p":0.57,"v":202},{"r":34.5,"p":0.59,"v":212},{"r":34.5,"p":0.61,"v":223},{"r":34.5,"p":0.63,"v":233},{"r":34.5,"p":0.65,"v":244},{"r":34.5,"p":0.67,"v":254},{"r":34.5,"p":0.69,"v":265},{"r":34.5,"p":0.71,"v":276},{"r":34.5,"p":0.73,"v":286},{"r":34.5,"p":0.75,"v":297},{"r":34.5,"p":0.77,"v":307},{"r":34.5,"p":0.79,"v":318},{"r":34.5,"p":0.81,"v":328},{"r":34.5,"p":0.83,"v":339},{"r":34.5,"p":0.85,"v":350},{"r":34.5,"p":0.87,"v":360},{"r":34.5,"p":0.89,"v":371},{"r":34.5,"p":0.91,"v":381},{"r":34.5,"p":0.93,"v":392},{"r":34.5,"p":0.95,"v":403},{"r":34.5,"p":0.97,"v":413},{"r":34.5,"p":0.99,"v":424},
{"r":37.5,"p":0.11,"v":-31},{"r":37.5,"p":0.13,"v":-19},{"r":37.5,"p":0.15,"v":-6},{"r":37.5,"p":0.17,"v":6},{"r":37.5,"p":0.19,"v":19},{"r":37.5,"p":0.21,"v":31},{"r":37.5,"p":0.23,"v":44},{"r":37.5,"p":0.25,"v":56},{"r":37.5,"p":0.27,"v":69},{"r":37.5,"p":0.29,"v":81},{"r":37.5,"p":0.31,"v":94},{"r":37.5,"p":0.33,"v":106},{"r":37.5,"p":0.35,"v":119},{"r":37.5,"p":0.37,"v":131},{"r":37.5,"p":0.39,"v":144},{"r":37.5,"p":0.41,"v":156},{"r":37.5,"p":0.43,"v":169},{"r":37.5,"p":0.45,"v":181},{"r":37.5,"p":0.47,"v":194},{"r":37.5,"p":0.49,"v":206},{"r":37.5,"p":0.51,"v":219},{"r":37.5,"p":0.53,"v":231},{"r":37.5,"p":0.55,"v":244},{"r":37.5,"p":0.57,"v":256},{"r":37.5,"p":0.59,"v":269},{"r":37.5,"p":0.61,"v":281},{"r":37.5,"p":0.63,"v":294},{"r":37.5,"p":0.65,"v":306},{"r":37.5,"p":0.67,"v":319},{"r":37.5,"p":0.69,"v":331},{"r":37.5,"p":0.71,"v":344},{"r":37.5,"p":0.73,"v":356},{"r":37.5,"p":0.75,"v":369},{"r":37.5,"p":0.77,"v":381},{"r":37.5,"p":0.79,"v":394},{"r":37.5,"p":0.81,"v":406},{"r":37.5,"p":0.83,"v":419},{"r":37.5,"p":0.85,"v":431},{"r":37.5,"p":0.87,"v":444},{"r":37.5,"p":0.89,"v":456},{"r":37.5,"p":0.91,"v":469},{"r":37.5,"p":0.93,"v":481},{"r":37.5,"p":0.95,"v":494},{"r":37.5,"p":0.97,"v":506},{"r":37.5,"p":0.99,"v":519},
{"r":40.5,"p":0.11,"v":-20},{"r":40.5,"p":0.13,"v":-5},{"r":40.5,"p":0.15,"v":9},{"r":40.5,"p":0.17,"v":24},{"r":40.5,"p":0.19,"v":39},{"r":40.5,"p":0.21,"v":53},{"r":40.5,"p":0.23,"v":68},{"r":40.5,"p":0.25,"v":82},{"r":40.5,"p":0.27,"v":97},{"r":40.5,"p":0.29,"v":111},{"r":40.5,"p":0.31,"v":126},{"r":40.5,"p":0.33,"v":141},{"r":40.5,"p":0.35,"v":155},{"r":40.5,"p":0.37,"v":170},{"r":40.5,"p":0.39,"v":184},{"r":40.5,"p":0.41,"v":199},{"r":40.5,"p":0.43,"v":213},{"r":40.5,"p":0.45,"v":228},{"r":40.5,"p":0.47,"v":243},{"r":40.5,"p":0.49,"v":257},{"r":40.5,"p":0.51,"v":272},{"r":40.5,"p":0.53,"v":286},{"r":40.5,"p":0.55,"v":301},{"r":40.5,"p":0.57,"v":316},{"r":40.5,"p":0.59,"v":330},{"r":40.5,"p":0.61,"v":345},{"r":40.5,"p":0.63,"v":359},{"r":40.5,"p":0.65,"v":374},{"r":40.5,"p":0.67,"v":388},{"r":40.5,"p":0.69,"v":403},{"r":40.5,"p":0.71,"v":418},{"r":40.5,"p":0.73,"v":432},{"r":40.5,"p":0.75,"v":447},{"r":40.5,"p":0.77,"v":461},{"r":40.5,"p":0.79,"v":476},{"r":40.5,"p":0.81,"v":490},{"r":40.5,"p":0.83,"v":505},{"r":40.5,"p":0.85,"v":520},{"r":40.5,"p":0.87,"v":534},{"r":40.5,"p":0.89,"v":549},{"r":40.5,"p":0.91,"v":563},{"r":40.5,"p":0.93,"v":578},{"r":40.5,"p":0.95,"v":593},{"r":40.5,"p":0.97,"v":607},{"r":40.5,"p":0.99,"v":622},
{"r":43.5,"p":0.11,"v":-7},{"r":43.5,"p":0.13,"v":9},{"r":43.5,"p":0.15,"v":26},{"r":43.5,"p":0.17,"v":43},{"r":43.5,"p":0.19,"v":60},{"r":43.5,"p":0.21,"v":77},{"r":43.5,"p":0.23,"v":93},{"r":43.5,"p":0.25,"v":110},{"r":43.5,"p":0.27,"v":127},{"r":43.5,"p":0.29,"v":144},{"r":43.5,"p":0.31,"v":161},{"r":43.5,"p":0.33,"v":178},{"r":43.5,"p":0.35,"v":194},{"r":43.5,"p":0.37,"v":211},{"r":43.5,"p":0.39,"v":228},{"r":43.5,"p":0.41,"v":245},{"r":43.5,"p":0.43,"v":262},{"r":43.5,"p":0.45,"v":278},{"r":43.5,"p":0.47,"v":295},{"r":43.5,"p":0.49,"v":312},{"r":43.5,"p":0.51,"v":329},{"r":43.5,"p":0.53,"v":346},{"r":43.5,"p":0.55,"v":363},{"r":43.5,"p":0.57,"v":379},{"r":43.5,"p":0.59,"v":396},{"r":43.5,"p":0.61,"v":413},{"r":43.5,"p":0.63,"v":430},{"r":43.5,"p":0.65,"v":447},{"r":43.5,"p":0.67,"v":463},{"r":43.5,"p":0.69,"v":480},{"r":43.5,"p":0.71,"v":497},{"r":43.5,"p":0.73,"v":514},{"r":43.5,"p":0.75,"v":531},{"r":43.5,"p":0.77,"v":548},{"r":43.5,"p":0.79,"v":564},{"r":43.5,"p":0.81,"v":581},{"r":43.5,"p":0.83,"v":598},{"r":43.5,"p":0.85,"v":615},{"r":43.5,"p":0.87,"v":632},
{"r":46.5,"p":0.11,"v":6},{"r":46.5,"p":0.13,"v":25},{"r":46.5,"p":0.15,"v":44},{"r":46.5,"p":0.17,"v":63},{"r":46.5,"p":0.19,"v":83},{"r":46.5,"p":0.21,"v":102},{"r":46.5,"p":0.23,"v":121},{"r":46.5,"p":0.25,"v":140},{"r":46.5,"p":0.27,"v":159},{"r":46.5,"p":0.29,"v":179},{"r":46.5,"p":0.31,"v":198},{"r":46.5,"p":0.33,"v":217},{"r":46.5,"p":0.35,"v":236},{"r":46.5,"p":0.37,"v":256},{"r":46.5,"p":0.39,"v":275},{"r":46.5,"p":0.41,"v":294},{"r":46.5,"p":0.43,"v":313},{"r":46.5,"p":0.45,"v":332},{"r":46.5,"p":0.47,"v":352},{"r":46.5,"p":0.49,"v":371},{"r":46.5,"p":0.51,"v":390},{"r":46.5,"p":0.53,"v":409},{"r":46.5,"p":0.55,"v":429},{"r":46.5,"p":0.57,"v":448},{"r":46.5,"p":0.59,"v":467},{"r":46.5,"p":0.61,"v":486},{"r":46.5,"p":0.63,"v":505},{"r":46.5,"p":0.65,"v":525},{"r":46.5,"p":0.67,"v":544},{"r":46.5,"p":0.69,"v":563},{"r":46.5,"p":0.71,"v":582},{"r":46.5,"p":0.73,"v":602},{"r":46.5,"p":0.75,"v":621},{"r":46.5,"p":0.77,"v":640},
{"r":49.5,"p":0.11,"v":20},{"r":49.5,"p":0.13,"v":42},{"r":49.5,"p":0.15,"v":63},{"r":49.5,"p":0.17,"v":85},{"r":49.5,"p":0.19,"v":107},{"r":49.5,"p":0.21,"v":129},{"r":49.5,"p":0.23,"v":150},{"r":49.5,"p":0.25,"v":172},{"r":49.5,"p":0.27,"v":194},{"r":49.5,"p":0.29,"v":216},{"r":49.5,"p":0.31,"v":238},{"r":49.5,"p":0.33,"v":259},{"r":49.5,"p":0.35,"v":281},{"r":49.5,"p":0.37,"v":303},{"r":49.5,"p":0.39,"v":325},{"r":49.5,"p":0.41,"v":346},{"r":49.5,"p":0.43,"v":368},{"r":49.5,"p":0.45,"v":390},{"r":49.5,"p":0.47,"v":412},{"r":49.5,"p":0.49,"v":434},{"r":49.5,"p":0.51,"v":455},{"r":49.5,"p":0.53,"v":477},{"r":49.5,"p":0.55,"v":499},{"r":49.5,"p":0.57,"v":521},{"r":49.5,"p":0.59,"v":543},{"r":49.5,"p":0.61,"v":564},{"r":49.5,"p":0.63,"v":586},{"r":49.5,"p":0.65,"v":608},{"r":49.5,"p":0.67,"v":630},
{"r":52.5,"p":0.11,"v":35},{"r":52.5,"p":0.13,"v":59},{"r":52.5,"p":0.15,"v":84},{"r":52.5,"p":0.17,"v":108},{"r":52.5,"p":0.19,"v":133},{"r":52.5,"p":0.21,"v":157},{"r":52.5,"p":0.23,"v":182},{"r":52.5,"p":0.25,"v":206},{"r":52.5,"p":0.27,"v":231},{"r":52.5,"p":0.29,"v":255},{"r":52.5,"p":0.31,"v":280},{"r":52.5,"p":0.33,"v":304},{"r":52.5,"p":0.35,"v":329},{"r":52.5,"p":0.37,"v":353},{"r":52.5,"p":0.39,"v":378},{"r":52.5,"p":0.41,"v":402},{"r":52.5,"p":0.43,"v":427},{"r":52.5,"p":0.45,"v":451},{"r":52.5,"p":0.47,"v":476},{"r":52.5,"p":0.49,"v":500},{"r":52.5,"p":0.51,"v":525},{"r":52.5,"p":0.53,"v":549},{"r":52.5,"p":0.55,"v":574},{"r":52.5,"p":0.57,"v":598},{"r":52.5,"p":0.59,"v":623},
{"r":55.5,"p":0.11,"v":51},{"r":55.5,"p":0.13,"v":78},{"r":55.5,"p":0.15,"v":105},{"r":55.5,"p":0.17,"v":133},{"r":55.5,"p":0.19,"v":160},{"r":55.5,"p":0.21,"v":187},{"r":55.5,"p":0.23,"v":215},{"r":55.5,"p":0.25,"v":242},{"r":55.5,"p":0.27,"v":270},{"r":55.5,"p":0.29,"v":297},{"r":55.5,"p":0.31,"v":324},{"r":55.5,"p":0.33,"v":352},{"r":55.5,"p":0.35,"v":379},{"r":55.5,"p":0.37,"v":407},{"r":55.5,"p":0.39,"v":434},{"r":55.5,"p":0.41,"v":461},{"r":55.5,"p":0.43,"v":489},{"r":55.5,"p":0.45,"v":516},{"r":55.5,"p":0.47,"v":543},{"r":55.5,"p":0.49,"v":571},{"r":55.5,"p":0.51,"v":598},{"r":55.5,"p":0.53,"v":626},
{"r":58.5,"p":0.11,"v":67},{"r":58.5,"p":0.13,"v":98},{"r":58.5,"p":0.15,"v":128},{"r":58.5,"p":0.17,"v":159},{"r":58.5,"p":0.19,"v":189},{"r":58.5,"p":0.21,"v":219},{"r":58.5,"p":0.23,"v":250},{"r":58.5,"p":0.25,"v":280},{"r":58.5,"p":0.27,"v":311},{"r":58.5,"p":0.29,"v":341},{"r":58.5,"p":0.31,"v":372},{"r":58.5,"p":0.33,"v":402},{"r":58.5,"p":0.35,"v":432},{"r":58.5,"p":0.37,"v":463},{"r":58.5,"p":0.39,"v":493},{"r":58.5,"p":0.41,"v":524},{"r":58.5,"p":0.43,"v":554},{"r":58.5,"p":0.45,"v":584},{"r":58.5,"p":0.47,"v":615},{"r":58.5,"p":0.49,"v":645}
],
"lo":[
{"r":21,"p":0.095,"v":-81},
{"r":24,"p":0.075,"v":-81},{"r":24,"p":0.085,"v":-78},{"r":24,"p":0.095,"v":-76},
{"r":27,"p":0.055,"v":-82},{"r":27,"p":0.065,"v":-79},{"r":27,"p":0.075,"v":-76},{"r":27,"p":0.085,"v":-72},{"r":27,"p":0.095,"v":-69},
{"r":30,"p":0.045,"v":-82},{"r":30,"p":0.055,"v":-78},{"r":30,"p":0.065,"v":-74},{"r":30,"p":0.075,"v":-70},{"r":30,"p":0.085,"v":-66},{"r":30,"p":0.095,"v":-62},
{"r":33,"p":0.035,"v":-83},{"r":33,"p":0.045,"v":-78},{"r":33,"p":0.055,"v":-73},{"r":33,"p":0.065,"v":-69},{"r":33,"p":0.075,"v":-64},{"r":33,"p":0.085,"v":-59},{"r":33,"p":0.095,"v":-54},
{"r":36,"p":0.035,"v":-80},{"r":36,"p":0.045,"v":-74},{"r":36,"p":0.055,"v":-68},{"r":36,"p":0.065,"v":-63},{"r":36,"p":0.075,"v":-57},{"r":36,"p":0.085,"v":-51},{"r":36,"p":0.095,"v":-45},
{"r":39,"p":0.025,"v":-83},{"r":39,"p":0.035,"v":-76},{"r":39,"p":0.045,"v":-70},{"r":39,"p":0.055,"v":-63},{"r":39,"p":0.065,"v":-56},{"r":39,"p":0.075,"v":-49},{"r":39,"p":0.085,"v":-43},{"r":39,"p":0.095,"v":-36},
{"r":42,"p":0.025,"v":-80},{"r":42,"p":0.035,"v":-73},{"r":42,"p":0.045,"v":-65},{"r":42,"p":0.055,"v":-57},{"r":42,"p":0.065,"v":-49},{"r":42,"p":0.075,"v":-41},{"r":42,"p":0.085,"v":-33},{"r":42,"p":0.095,"v":-26},
{"r":45,"p":0.025,"v":-78},{"r":45,"p":0.035,"v":-69},{"r":45,"p":0.045,"v":-60},{"r":45,"p":0.055,"v":-51},{"r":45,"p":0.065,"v":-42},{"r":45,"p":0.075,"v":-33},{"r":45,"p":0.085,"v":-24},{"r":45,"p":0.095,"v":-15},
{"r":48,"p":0.015,"v":-85},{"r":48,"p":0.025,"v":-74},{"r":48,"p":0.035,"v":-64},{"r":48,"p":0.045,"v":-54},{"r":48,"p":0.055,"v":-44},{"r":48,"p":0.065,"v":-33},{"r":48,"p":0.075,"v":-23},{"r":48,"p":0.085,"v":-13},{"r":48,"p":0.095,"v":-3},
{"r":51,"p":0.015,"v":-83},{"r":51,"p":0.025,"v":-71},{"r":51,"p":0.035,"v":-60},{"r":51,"p":0.045,"v":-48},{"r":51,"p":0.055,"v":-36},{"r":51,"p":0.065,"v":-25},{"r":51,"p":0.075,"v":-13},{"r":51,"p":0.085,"v":-2},{"r":51,"p":0.095,"v":10},
{"r":54,"p":0.015,"v":-81},{"r":54,"p":0.025,"v":-68},{"r":54,"p":0.035,"v":-55},{"r":54,"p":0.045,"v":-42},{"r":54,"p":0.055,"v":-29},{"r":54,"p":0.065,"v":-16},{"r":54,"p":0.075,"v":-3},{"r":54,"p":0.085,"v":10},{"r":54,"p":0.095,"v":23},
{"r":57,"p":0.015,"v":-78},{"r":57,"p":0.025,"v":-64},{"r":57,"p":0.035,"v":-49},{"r":57,"p":0.045,"v":-35},{"r":57,"p":0.055,"v":-21},{"r":57,"p":0.065,"v":-6},{"r":57,"p":0.075,"v":8},{"r":57,"p":0.085,"v":23},{"r":57,"p":0.095,"v":37},
{"r":60,"p":0.005,"v":-92},{"r":60,"p":0.015,"v":-76},{"r":60,"p":0.025,"v":-60},{"r":60,"p":0.035,"v":-44},{"r":60,"p":0.045,"v":-28},{"r":60,"p":0.055,"v":-12},{"r":60,"p":0.065,"v":4},{"r":60,"p":0.075,"v":20},{"r":60,"p":0.085,"v":36},{"r":60,"p":0.095,"v":52},
{"r":63,"p":0.005,"v":-91},{"r":63,"p":0.015,"v":-74},{"r":63,"p":0.025,"v":-56},{"r":63,"p":0.035,"v":-38},{"r":63,"p":0.045,"v":-21},{"r":63,"p":0.055,"v":-3},{"r":63,"p":0.065,"v":15},{"r":63,"p":0.075,"v":32},{"r":63,"p":0.085,"v":50},{"r":63,"p":0.095,"v":68},
{"r":66,"p":0.005,"v":-90},{"r":66,"p":0.015,"v":-71},{"r":66,"p":0.025,"v":-52},{"r":66,"p":0.035,"v":-32},{"r":66,"p":0.045,"v":-13},{"r":66,"p":0.055,"v":6},{"r":66,"p":0.065,"v":26},{"r":66,"p":0.075,"v":45},{"r":66,"p":0.085,"v":65},{"r":66,"p":0.095,"v":84},
{"r":69,"p":0.005,"v":-89},{"r":69,"p":0.015,"v":-68},{"r":69,"p":0.025,"v":-47},{"r":69,"p":0.035,"v":-26},{"r":69,"p":0.045,"v":-5},{"r":69,"p":0.055,"v":16},{"r":69,"p":0.065,"v":38},{"r":69,"p":0.075,"v":59},{"r":69,"p":0.085,"v":80},{"r":69,"p":0.095,"v":101},
{"r":72,"p":0.005,"v":-88},{"r":72,"p":0.015,"v":-65},{"r":72,"p":0.025,"v":-42},{"r":72,"p":0.035,"v":-19},{"r":72,"p":0.045,"v":4},{"r":72,"p":0.055,"v":27},{"r":72,"p":0.065,"v":50},{"r":72,"p":0.075,"v":73},{"r":72,"p":0.085,"v":96},{"r":72,"p":0.095,"v":119},
{"r":75,"p":0.005,"v":-88},{"r":75,"p":0.015,"v":-62},{"r":75,"p":0.025,"v":-37},{"r":75,"p":0.035,"v":-12},{"r":75,"p":0.045,"v":13},{"r":75,"p":0.055,"v":38},{"r":75,"p":0.065,"v":63},{"r":75,"p":0.075,"v":88},{"r":75,"p":0.085,"v":113},{"r":75,"p":0.095,"v":138},
{"r":78,"p":0.005,"v":-86},{"r":78,"p":0.015,"v":-59},{"r":78,"p":0.025,"v":-32},{"r":78,"p":0.035,"v":-5},{"r":78,"p":0.045,"v":22},{"r":78,"p":0.055,"v":49},{"r":78,"p":0.065,"v":76},{"r":78,"p":0.075,"v":103},{"r":78,"p":0.085,"v":130},{"r":78,"p":0.095,"v":157},
{"r":81,"p":0.005,"v":-85},{"r":81,"p":0.015,"v":-56},{"r":81,"p":0.025,"v":-27},{"r":81,"p":0.035,"v":2},{"r":81,"p":0.045,"v":31},{"r":81,"p":0.055,"v":60},{"r":81,"p":0.065,"v":90},{"r":81,"p":0.075,"v":119},{"r":81,"p":0.085,"v":148},{"r":81,"p":0.095,"v":177},
{"r":84,"p":0.005,"v":-84},{"r":84,"p":0.015,"v":-53},{"r":84,"p":0.025,"v":-22},{"r":84,"p":0.035,"v":10},{"r":84,"p":0.045,"v":41},{"r":84,"p":0.055,"v":72},{"r":84,"p":0.065,"v":104},{"r":84,"p":0.075,"v":135},{"r":84,"p":0.085,"v":167},{"r":84,"p":0.095,"v":198},
{"r":87,"p":0.005,"v":-83},{"r":87,"p":0.015,"v":-50},{"r":87,"p":0.025,"v":-16},{"r":87,"p":0.035,"v":18},{"r":87,"p":0.045,"v":51},{"r":87,"p":0.055,"v":85},{"r":87,"p":0.065,"v":119},{"r":87,"p":0.075,"v":152},{"r":87,"p":0.085,"v":186},{"r":87,"p":0.095,"v":220},
{"r":90,"p":0.005,"v":-82},{"r":90,"p":0.015,"v":-46},{"r":90,"p":0.025,"v":-10},{"r":90,"p":0.035,"v":26},{"r":90,"p":0.045,"v":62},{"r":90,"p":0.055,"v":98},{"r":90,"p":0.065,"v":134},{"r":90,"p":0.075,"v":170},{"r":90,"p":0.085,"v":206},{"r":90,"p":0.095,"v":242},
{"r":93,"p":0.005,"v":-81},{"r":93,"p":0.015,"v":-42},{"r":93,"p":0.025,"v":-4},{"r":93,"p":0.035,"v":35},{"r":93,"p":0.045,"v":73},{"r":93,"p":0.055,"v":111},{"r":93,"p":0.065,"v":150},{"r":93,"p":0.075,"v":188},{"r":93,"p":0.085,"v":227},{"r":93,"p":0.095,"v":265},
{"r":96,"p":0.005,"v":-80},{"r":96,"p":0.015,"v":-39},{"r":96,"p":0.025,"v":2},{"r":96,"p":0.035,"v":43},{"r":96,"p":0.045,"v":84},{"r":96,"p":0.055,"v":125},{"r":96,"p":0.065,"v":166},{"r":96,"p":0.075,"v":207},{"r":96,"p":0.085,"v":248},{"r":96,"p":0.095,"v":289},
{"r":99,"p":0.005,"v":-78},{"r":99,"p":0.015,"v":-35},{"r":99,"p":0.025,"v":9},{"r":99,"p":0.035,"v":52},{"r":99,"p":0.045,"v":96},{"r":99,"p":0.055,"v":140},{"r":99,"p":0.065,"v":183},{"r":99,"p":0.075,"v":227},{"r":99,"p":0.085,"v":270},{"r":99,"p":0.095,"v":314}
],
"upperEdge":[
{"r":40,"p":1.0},{"r":41,"p":0.9518},{"r":42,"p":0.907},{"r":43,"p":0.8653},{"r":44,"p":0.8264},{"r":46,"p":0.7561},{"r":48,"p":0.6944},{"r":50,"p":0.64},{"r":52,"p":0.5917},{"r":55,"p":0.5289},{"r":58,"p":0.4756},{"r":61,"p":0.43},{"r":64,"p":0.3906},{"r":67,"p":0.3564},{"r":70,"p":0.3265},{"r":74,"p":0.2922},{"r":78,"p":0.263},{"r":82,"p":0.238},{"r":86,"p":0.2163},{"r":90,"p":0.1975},{"r":95,"p":0.1773},{"r":100,"p":0.16},{"r":101,"p":0.157}
],
"lowerEdge":[
{"r":4.0,"p":1.047},{"r":7.15,"p":1.047},{"r":7.19,"p":1.0},{"r":7.3,"p":0.88},{"r":7.75,"p":0.775},{"r":8.3,"p":0.68},{"r":8.75,"p":0.617},{"r":9.15,"p":0.56},{"r":9.9,"p":0.517},{"r":11.1,"p":0.435},{"r":12.3,"p":0.355},{"r":13.7,"p":0.28},{"r":15.2,"p":0.232},{"r":16.7,"p":0.19},{"r":18.3,"p":0.15},{"r":19.2,"p":0.13},{"r":20.2,"p":0.113},{"r":21.9,"p":0.097},{"r":24.8,"p":0.077},{"r":28.6,"p":0.057},{"r":32.3,"p":0.045},{"r":37.5,"p":0.033},{"r":40.5,"p":0.0285},{"r":44.2,"p":0.0245},{"r":47.1,"p":0.022},{"r":49.4,"p":0.0155},{"r":56.8,"p":0.011},{"r":69.4,"p":0.0068},{"r":85,"p":0.0055},{"r":101,"p":0.005}
],
"curve":[
{"r":15,"p":1.0},{"r":15.5,"p":0.9365},{"r":16,"p":0.879},{"r":17,"p":0.7785},{"r":18,"p":0.6944},{"r":19,"p":0.6233},{"r":20,"p":0.5625},{"r":21,"p":0.5102},{"r":22,"p":0.4649},{"r":23,"p":0.4253},{"r":24,"p":0.3906},{"r":26,"p":0.3328},{"r":28,"p":0.287},{"r":30,"p":0.25},{"r":32,"p":0.2197},{"r":35,"p":0.1837},{"r":38,"p":0.1558},{"r":41,"p":0.1338},{"r":45,"p":0.1111},{"r":50,"p":0.09},{"r":55,"p":0.0744},{"r":60,"p":0.0625},{"r":65,"p":0.0533},{"r":70,"p":0.0459},{"r":75,"p":0.04},{"r":80,"p":0.0352},{"r":85,"p":0.0311},{"r":90,"p":0.0278},{"r":95,"p":0.0249},{"r":100,"p":0.0225}
]
},
"encoding":{
"x":{"field":"r","type":"quantitative","title":"Detection Radius (m)","scale":{"domain":[2.96,103.8],"nice":false,"zero":false},"axis":{"values":[25,50,75,100],"grid":false,"domain":false,"labelFlush":false,"tickSize":3,"tickColor":"#7f7f7f","labelFontSize":10.5,"labelColor":"#4d4d4d","labelPadding":3,"titleFontSize":13.5,"titleFontWeight":"normal","titleColor":"#000000","titlePadding":2}},
"y":{"field":"p","type":"quantitative","title":"Probability of Clicking in a 1−Sec Period","scale":{"domain":[-0.0481,1.0495],"nice":false,"zero":false},"axis":{"values":[0,0.25,0.5,0.75,1],"format":".2f","grid":false,"domain":false,"labelFlush":false,"tickSize":3,"tickColor":"#7f7f7f","labelFontSize":10.5,"labelColor":"#4d4d4d","labelAngle":-90,"labelAlign":"center","labelBaseline":"bottom","labelPadding":1,"titleFontSize":13.5,"titleFontWeight":"normal","titleColor":"#000000","titlePadding":2}}
},
"layer":[
{"data":{"name":"hi"},"mark":{"type":"rect","width":14.5,"height":9.3},
"encoding":{"color":{"field":"v","type":"quantitative","title":"% Δ EDA","scale":{"domain":[-70,0,578],"range":["#ff4800","#ff0000","#ffff00"],"interpolate":"lab","clamp":true},"legend":{"orient":"none","legendX":359,"legendY":33,"direction":"vertical","gradientLength":100,"gradientThickness":20,"gradientStrokeWidth":0,"values":[0,200,400],"labelFontSize":11,"labelColor":"#333333","labelOffset":5,"titleFontSize":14,"titleFontWeight":"normal","titleColor":"#000000","titlePadding":1,"padding":0}}}},
{"data":{"name":"lo"},"mark":{"type":"rect","width":14.5,"height":5.2},
"encoding":{"color":{"field":"v","type":"quantitative","title":"% Δ EDA","scale":{"domain":[-70,0,578],"range":["#ff4800","#ff0000","#ffff00"],"interpolate":"lab","clamp":true},"legend":{"orient":"none","legendX":359,"legendY":33,"direction":"vertical","gradientLength":100,"gradientThickness":20,"gradientStrokeWidth":0,"values":[0,200,400],"labelFontSize":11,"labelColor":"#333333","labelOffset":5,"titleFontSize":14,"titleFontWeight":"normal","titleColor":"#000000","titlePadding":1,"padding":0}}}},
{"data":{"name":"mid"},"mark":{"type":"rect","width":6.73,"height":9.3},
"encoding":{"color":{"field":"v","type":"quantitative","title":"% Δ EDA","scale":{"domain":[-70,0,578],"range":["#ff4800","#ff0000","#ffff00"],"interpolate":"lab","clamp":true},"legend":{"orient":"none","legendX":359,"legendY":33,"direction":"vertical","gradientLength":100,"gradientThickness":20,"gradientStrokeWidth":0,"values":[0,200,400],"labelFontSize":11,"labelColor":"#333333","labelOffset":5,"titleFontSize":14,"titleFontWeight":"normal","titleColor":"#000000","titlePadding":1,"padding":0}}}},
{"data":{"name":"upperEdge"},"mark":{"type":"area","color":"#ffffff","opacity":1,"interpolate":"monotone"},"encoding":{"y2":{"datum":1.047}}},
{"data":{"name":"lowerEdge"},"mark":{"type":"area","color":"#ffffff","opacity":1,"interpolate":"monotone"},"encoding":{"y2":{"datum":-0.046}}},
{"data":{"name":"curve"},"mark":{"type":"line","color":"#000000","strokeWidth":3.6,"interpolate":"monotone"},"encoding":{}}
]
}
